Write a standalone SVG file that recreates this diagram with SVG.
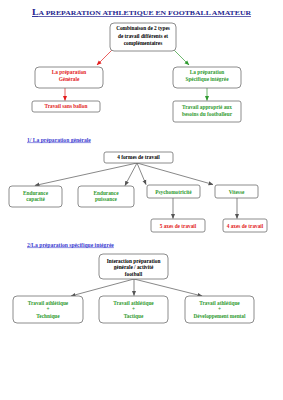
<svg xmlns="http://www.w3.org/2000/svg" width="283" height="400" viewBox="0 0 283 400">
<style>
text{font-family:"Liberation Serif","Times New Roman",serif;font-weight:bold;text-anchor:middle}
.b{fill:#fff;stroke:#707070;stroke-width:0.8}
.t{font-size:5.3px}
.k{fill:#000}
.r{fill:#e31b1b}
.g{fill:#2f9a2f}
.h{fill:#3a3ad0;font-size:5.6px;text-anchor:start;text-decoration:underline}
.c{stroke:#555;stroke-width:0.7;fill:none}
</style>
<defs>
<marker id="ag" viewBox="0 0 10 10" refX="9" refY="5" markerWidth="5" markerHeight="5" orient="auto" markerUnits="userSpaceOnUse"><path d="M0,1 L10,5 L0,9 z" fill="#555"/></marker>
<marker id="ar" viewBox="0 0 10 10" refX="9" refY="5" markerWidth="5" markerHeight="5" orient="auto" markerUnits="userSpaceOnUse"><path d="M0,1 L10,5 L0,9 z" fill="#e31b1b"/></marker>
<marker id="agr" viewBox="0 0 10 10" refX="9" refY="5" markerWidth="5" markerHeight="5" orient="auto" markerUnits="userSpaceOnUse"><path d="M0,1 L10,5 L0,9 z" fill="#2f9a2f"/></marker>
</defs>
<text x="141.5" y="15" fill="#1f1f8f" style="text-decoration:underline" textLength="219" lengthAdjust="spacingAndGlyphs"><tspan font-size="9">L</tspan><tspan font-size="7">A PREPARATION ATHLETIQUE EN FOOTBALL AMATEUR</tspan></text>
<g id="connectors">
<line class="c" x1="113" y1="49" x2="97" y2="65" stroke="#e31b1b" style="stroke:#e31b1b" marker-end="url(#ar)"/>
<line class="c" x1="173" y1="49" x2="189" y2="65" style="stroke:#2f9a2f" marker-end="url(#agr)"/>
<line class="c" x1="65" y1="88" x2="65" y2="100.5" style="stroke:#e31b1b" marker-end="url(#ar)"/>
<line class="c" x1="207" y1="88" x2="207" y2="100.5" style="stroke:#2f9a2f" marker-end="url(#agr)"/>
<line class="c" x1="137" y1="163" x2="35" y2="185.5" marker-end="url(#ag)"/>
<line class="c" x1="137" y1="163" x2="125" y2="185.5" marker-end="url(#ag)"/>
<line class="c" x1="137" y1="163" x2="146" y2="184.5" marker-end="url(#ag)"/>
<line class="c" x1="137" y1="163" x2="213" y2="184.5" marker-end="url(#ag)"/>
<line class="c" x1="173" y1="198" x2="173" y2="218.5" marker-end="url(#ag)"/>
<line class="c" x1="237" y1="198" x2="237" y2="218.5" marker-end="url(#ag)"/>
<line class="c" x1="134" y1="279" x2="71" y2="296" marker-end="url(#ag)"/>
<line class="c" x1="134" y1="279" x2="134" y2="295.5" marker-end="url(#ag)"/>
<line class="c" x1="134" y1="279" x2="202" y2="296" marker-end="url(#ag)"/>
</g>
<g id="n-combinaison"><rect class="b" x="110" y="23" width="66" height="28" rx="4"/>
<text class="t k" x="143" y="30.3">Combinaison de 2 types</text><text class="t k" x="143" y="37.7">de travail différents et</text><text class="t k" x="143" y="45.2">complémentaires</text></g>
<g id="n-generale"><rect class="b" x="35" y="67" width="68" height="21" rx="4"/>
<text class="t r" x="69" y="73.7">La préparation</text><text class="t r" x="69" y="81">Générale</text></g>
<g id="n-sansballon"><rect class="b" x="32" y="101" width="68" height="11" rx="2"/>
<text class="t r" x="66" y="108.4">Travail sans ballon</text></g>
<g id="n-specifique"><rect class="b" x="173" y="67" width="68" height="21" rx="4"/>
<text class="t g" x="207" y="73.7">La préparation</text><text class="t g" x="207" y="81">Spécifique intégrée</text></g>
<g id="n-approprie"><rect class="b" x="173" y="101" width="68" height="21" rx="2"/>
<text class="t g" x="207" y="108.5">Travail approprié aux</text><text class="t g" x="207" y="116">besoins du footballeur</text></g>
<text class="h" x="27" y="141.5">1/ La préparation générale</text>
<g id="n-4formes"><rect class="b" x="104" y="152" width="69" height="11" rx="2"/>
<text class="t k" x="138.5" y="159.3">4 formes de travail</text></g>
<g id="n-endcap"><rect class="b" x="9" y="186" width="53" height="21" rx="3"/>
<text class="t g" x="35.5" y="194.7">Endurance</text><text class="t g" x="35.5" y="201.3">capacité</text></g>
<g id="n-endpuis"><rect class="b" x="78" y="186" width="56" height="21" rx="3"/>
<text class="t g" x="106" y="194.7">Endurance</text><text class="t g" x="106" y="201.3">puissance</text></g>
<g id="n-psycho"><rect class="b" x="147" y="185" width="53" height="13" rx="2"/>
<text class="t g" x="173.5" y="193.6">Psychomotricité</text></g>
<g id="n-vitesse"><rect class="b" x="215" y="185" width="43" height="13" rx="2"/>
<text class="t g" x="236.5" y="193.6">Vitesse</text></g>
<g id="n-5axes"><rect class="b" x="151" y="219" width="54" height="13" rx="2"/>
<text class="t r" x="178" y="227.6">5 axes de travail</text></g>
<g id="n-4axes"><rect class="b" x="223" y="219" width="44" height="13" rx="2"/>
<text class="t r" x="245" y="227.6">4 axes de travail</text></g>
<text class="h" x="27" y="246.5">2/La préparation spécifique intégrée</text>
<g id="n-interaction"><rect class="b" x="99" y="254" width="69" height="25" rx="4"/>
<text class="t k" x="133.5" y="262.7">Interaction préparation</text><text class="t k" x="133.5" y="269.3">générale / activité</text><text class="t k" x="133.5" y="276">football</text></g>
<g id="n-technique"><rect class="b" x="13" y="296" width="70" height="27" rx="4"/>
<text class="t g" x="48" y="304.7">Travail athlétique</text><text class="t g" x="48" y="311.3">+</text><text class="t g" x="48" y="318">Technique</text></g>
<g id="n-tactique"><rect class="b" x="99" y="296" width="69" height="27" rx="4"/>
<text class="t g" x="133.5" y="304.7">Travail athlétique</text><text class="t g" x="133.5" y="311.3">+</text><text class="t g" x="133.5" y="318">Tactique</text></g>
<g id="n-mental"><rect class="b" x="185" y="296" width="69" height="27" rx="4"/>
<text class="t g" x="219.5" y="304.7">Travail athlétique</text><text class="t g" x="219.5" y="311.3">+</text><text class="t g" x="219.5" y="318">Développement mental</text></g>
</svg>
